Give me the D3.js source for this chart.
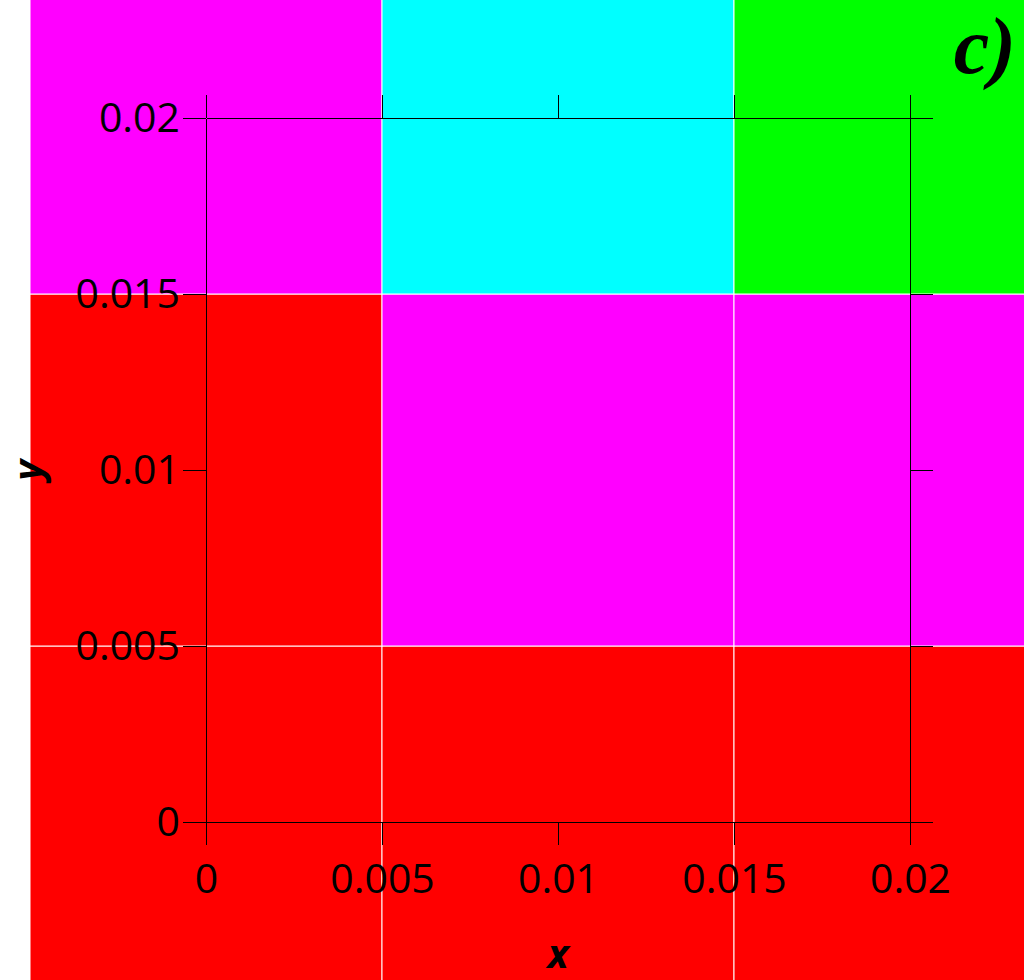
<!DOCTYPE html>
<html>
<head>
<meta charset="utf-8">
<script src="https://cdn.jsdelivr.net/npm/d3@7"></script>
<style>
  html, body { margin: 0; padding: 0; background: #fff; }
  svg { display: block; }
</style>
</head>
<body>
<svg id="chart" width="1024" height="980"></svg>
<script>
// ---- data ----
const xCenters = [0, 0.01, 0.02];
const yCenters = [0, 0.01, 0.02];
// class index per cell: rows = y (bottom to top), columns = x (left to right)
const cellClass = [
  [1, 1, 1],   // y = 0
  [1, 2, 2],   // y = 0.01
  [2, 3, 4]    // y = 0.02
];
const classColors = ["#ff0000", "#ff00ff", "#00ffff", "#00ff00"];
const tickValues = [0, 0.005, 0.01, 0.015, 0.02];
const cellSize = 0.01;

// ---- drawing ----
const svg = d3.select("#chart");
const x = d3.scaleLinear().domain([0, 0.02]).range([206, 910]);
const y = d3.scaleLinear().domain([0, 0.02]).range([822, 118]);
const color = d3.scaleOrdinal().domain([1, 2, 3, 4]).range(classColors);

const cells = [];
yCenters.forEach((yc, i) => xCenters.forEach((xc, j) => cells.push({x: xc, y: yc, c: cellClass[i][j]})));

svg.append("g").selectAll("rect").data(cells).join("rect")
  .attr("x", d => x(d.x - cellSize / 2))
  .attr("y", d => y(d.y + cellSize / 2))
  .attr("width", d => x(d.x + cellSize / 2) - x(d.x - cellSize / 2))
  .attr("height", d => y(d.y - cellSize / 2) - y(d.y + cellSize / 2))
  .attr("fill", d => color(d.c))
  .attr("stroke", "#fff")
  .attr("stroke-width", 1);

const fmt = d => String(+d.toFixed(3));
const font = "'Open Sans', 'Noto Sans', sans-serif";

function styleAxis(g) {
  g.selectAll("path.domain").attr("stroke", "#000").attr("stroke-width", 1);
  g.selectAll(".tick line").attr("stroke", "#000").attr("stroke-width", 1);
  g.selectAll("text").attr("fill", "#000").style("font-family", font).style("font-size", "41px");
}

svg.append("g").attr("transform", `translate(0,${y(0)})`)
  .call(d3.axisBottom(x).tickValues(tickValues).tickFormat(fmt).tickSize(23).tickSizeOuter(0).tickPadding(19))
  .call(styleAxis);
svg.append("g").attr("transform", `translate(0,${y(0.02)})`)
  .call(d3.axisTop(x).tickValues(tickValues).tickFormat("").tickSize(23).tickSizeOuter(0))
  .call(styleAxis);
svg.append("g").attr("transform", `translate(${x(0)},0)`)
  .call(d3.axisLeft(y).tickValues(tickValues).tickFormat(fmt).tickSize(23).tickSizeOuter(0).tickPadding(3))
  .call(styleAxis);
svg.append("g").attr("transform", `translate(${x(0.02)},0)`)
  .call(d3.axisRight(y).tickValues(tickValues).tickFormat("").tickSize(23).tickSizeOuter(0))
  .call(styleAxis);

svg.selectAll(".domain, .tick line").attr("shape-rendering", "crispEdges");

svg.append("text")
  .attr("x", x(0.01)).attr("y", 968)
  .attr("text-anchor", "middle")
  .style("font-family", font).style("font-size", "40px")
  .style("font-weight", "bold").style("font-style", "italic")
  .text("x");

svg.append("text")
  .attr("transform", `translate(42,${y(0.01)}) rotate(-90)`)
  .attr("text-anchor", "middle")
  .style("font-family", font).style("font-size", "40px")
  .style("font-weight", "bold").style("font-style", "italic")
  .text("y");

svg.append("text")
  .attr("x", 1016).attr("y", 73)
  .attr("text-anchor", "end")
  .style("font-family", "'Liberation Serif', 'Times New Roman', serif").style("font-size", "80px")
  .style("font-weight", "bold").style("font-style", "italic")
  .text("c)");
</script>
</body>
</html>
